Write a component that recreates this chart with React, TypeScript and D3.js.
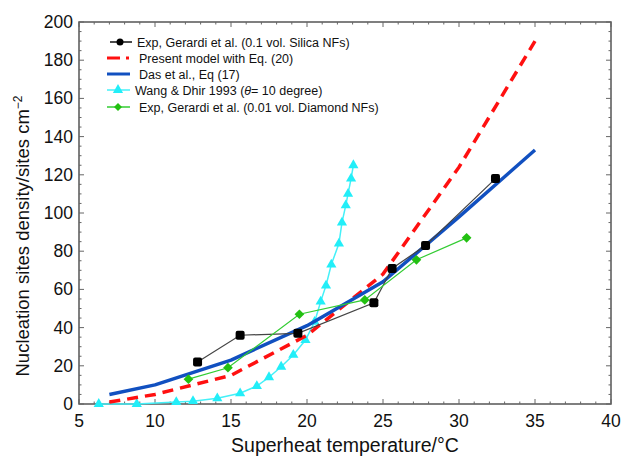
import { useEffect, useRef } from "react";
import * as d3 from "d3";

// Exp, Gerardi et al. (0.1 vol. Silica NFs)
const silicaX = [12.8, 15.6, 19.4, 24.4, 25.6, 27.8, 32.4];
const silicaY = [22, 36, 37, 53, 71, 83, 118];

// Exp, Gerardi et al. (0.01 vol. Diamond NFs)
const diamondX = [12.2, 14.8, 19.5, 23.8, 27.2, 30.5];
const diamondY = [13, 19, 47, 54.5, 75.5, 87];

// model curves
const modelX = [7, 10, 15, 20, 25, 30, 35];
const presentY = [1, 5, 15, 36, 68, 124, 190];
const dasY = [5, 10, 23, 41, 64, 98, 133];

// Wang & Dhir 1993
const wangX = [6.3, 8.8, 11.4, 12.5, 14.1, 15.6, 16.7, 17.5, 18.3, 19.1, 19.9, 20.5, 20.9, 21.25, 21.6, 22.1, 22.3, 22.55, 22.7, 22.9, 23.05];
const wangY = [0, 0, 1, 1.5, 3, 5.6, 9.4, 14, 19.5, 25.7, 33.5, 43, 53.6, 62, 73, 84, 95, 104, 110, 118, 125];

const xTicks = [5, 10, 15, 20, 25, 30, 35, 40];
const yTicks = [0, 20, 40, 60, 80, 100, 120, 140, 160, 180, 200];

const FONT = "'Liberation Sans', Arial, Helvetica, sans-serif";

export default function App() {
  const ref = useRef<SVGSVGElement>(null);

  useEffect(() => {
    if (!ref.current) return;
    const svg = d3.select(ref.current);
    svg.selectAll("*").remove();

    const left = 79, right = 611, top = 22, bottom = 404;
    const x = d3.scaleLinear().domain([5, 40]).range([left, right]);
    const y = d3.scaleLinear().domain([0, 200]).range([bottom, top]);

    const zip = (xs: number[], ys: number[]) => xs.map((v, i) => [v, ys[i]] as [number, number]);
    const line = d3.line<[number, number]>().x((d) => x(d[0])).y((d) => y(d[1]));

    // frame
    svg.append("rect")
      .attr("x", left).attr("y", top)
      .attr("width", right - left).attr("height", bottom - top)
      .attr("fill", "white").attr("stroke", "#555").attr("stroke-width", 1.5);

    // ticks (inward, all four sides)
    const tk = svg.append("g").attr("stroke", "#666").attr("stroke-width", 1);
    d3.range(5, 41, 1).forEach((v) => {
      const len = v % 5 === 0 ? 5 : 2.5;
      tk.append("line").attr("x1", x(v)).attr("x2", x(v)).attr("y1", bottom).attr("y2", bottom - len);
      tk.append("line").attr("x1", x(v)).attr("x2", x(v)).attr("y1", top).attr("y2", top + len);
    });
    d3.range(0, 201, 5).forEach((v) => {
      const len = v % 20 === 0 ? 5 : 2.5;
      tk.append("line").attr("y1", y(v)).attr("y2", y(v)).attr("x1", left).attr("x2", left + len);
      tk.append("line").attr("y1", y(v)).attr("y2", y(v)).attr("x1", right).attr("x2", right - len);
    });

    // tick labels
    svg.append("g").selectAll("text").data(xTicks).enter().append("text")
      .attr("x", (d) => x(d)).attr("y", 427)
      .attr("text-anchor", "middle")
      .style("font-family", FONT).style("font-size", "17.5px").attr("fill", "#111")
      .text((d) => d);
    svg.append("g").selectAll("text").data(yTicks).enter().append("text")
      .attr("x", 73).attr("y", (d) => y(d) + 6)
      .attr("text-anchor", "end")
      .style("font-family", FONT).style("font-size", "17.5px").attr("fill", "#111")
      .text((d) => d);

    // axis titles
    svg.append("text")
      .attr("x", 345).attr("y", 452)
      .attr("text-anchor", "middle")
      .style("font-family", FONT).style("font-size", "19.5px").attr("fill", "#111")
      .text("Superheat temperature/°C");
    const yl = svg.append("text")
      .attr("transform", "translate(29,236) rotate(-90)")
      .attr("text-anchor", "middle")
      .style("font-family", FONT).style("font-size", "18.5px").attr("fill", "#111");
    yl.append("tspan").text("Nucleation sites density/sites cm");
    yl.append("tspan").attr("dy", -7).style("font-size", "12px").text("−2");

    // Wang & Dhir
    const wang = zip(wangX, wangY);
    svg.append("path").attr("d", line(wang)).attr("fill", "none")
      .attr("stroke", "#44f0f8").attr("stroke-width", 1.5);
    svg.append("g").selectAll("path").data(wang).enter().append("path")
      .attr("d", d3.symbol(d3.symbolTriangle, 45)())
      .attr("transform", (d) => `translate(${x(d[0])},${y(d[1])})`)
      .attr("fill", "#22eef8");

    // Present model
    svg.append("path").attr("d", line(zip(modelX, presentY))).attr("fill", "none")
      .attr("stroke", "#ff1010").attr("stroke-width", 3.5).attr("stroke-dasharray", "11,7");

    // Das et al.
    svg.append("path").attr("d", line(zip(modelX, dasY))).attr("fill", "none")
      .attr("stroke", "#1150c0").attr("stroke-width", 3.5).attr("stroke-linejoin", "round");

    // Silica
    const silica = zip(silicaX, silicaY);
    svg.append("path").attr("d", line(silica)).attr("fill", "none")
      .attr("stroke", "#444").attr("stroke-width", 1.2);
    svg.append("g").selectAll("rect").data(silica).enter().append("rect")
      .attr("x", (d) => x(d[0]) - 4.5).attr("y", (d) => y(d[1]) - 4.5)
      .attr("width", 9).attr("height", 9).attr("rx", 2)
      .attr("fill", "#000");

    // Diamond
    const diamond = zip(diamondX, diamondY);
    svg.append("path").attr("d", line(diamond)).attr("fill", "none")
      .attr("stroke", "#33cc33").attr("stroke-width", 1.2);
    svg.append("g").selectAll("path").data(diamond).enter().append("path")
      .attr("d", d3.symbol(d3.symbolDiamond2, 60)())
      .attr("transform", (d) => `translate(${x(d[0])},${y(d[1])})`)
      .attr("fill", "#22c011");

    // Legend
    const lg = svg.append("g").style("font-family", FONT).style("font-size", "12.5px");
    const rows = [
      { yy: 42, tx: 137, label: "Exp, Gerardi et al. (0.1 vol. Silica NFs)" },
      { yy: 58, tx: 139, label: "Present model with Eq. (20)" },
      { yy: 74, tx: 139, label: "Das et al., Eq (17)" },
      { yy: 90, tx: 135, label: "" },
      { yy: 107, tx: 139, label: "Exp, Gerardi et al. (0.01 vol. Diamond NFs)" },
    ];
    rows.forEach((r) => {
      if (r.label) lg.append("text").attr("x", r.tx).attr("y", r.yy + 4.5).attr("fill", "#111").text(r.label);
    });
    // row 1
    lg.append("line").attr("x1", 110).attr("x2", 132).attr("y1", 42).attr("y2", 42).attr("stroke", "#111").attr("stroke-width", 1.5);
    lg.append("circle").attr("cx", 120).attr("cy", 42).attr("r", 3.5).attr("fill", "#000");
    // row 2
    lg.append("line").attr("x1", 107).attr("x2", 120).attr("y1", 58).attr("y2", 58).attr("stroke", "#ff1010").attr("stroke-width", 3);
    lg.append("line").attr("x1", 126).attr("x2", 129).attr("y1", 58).attr("y2", 58).attr("stroke", "#ff1010").attr("stroke-width", 3);
    // row 3
    lg.append("line").attr("x1", 107).attr("x2", 130).attr("y1", 74).attr("y2", 74).attr("stroke", "#1150c0").attr("stroke-width", 3);
    // row 4
    lg.append("line").attr("x1", 107).attr("x2", 130).attr("y1", 90).attr("y2", 90).attr("stroke", "#44f0f8").attr("stroke-width", 1.5);
    lg.append("path").attr("d", d3.symbol(d3.symbolTriangle, 45)()).attr("transform", "translate(118,90)").attr("fill", "#22eef8");
    const wt = lg.append("text").attr("x", 135).attr("y", 94.5).attr("fill", "#111");
    wt.append("tspan").text("Wang & Dhir 1993 (");
    wt.append("tspan").style("font-style", "italic").text("θ");
    wt.append("tspan").text("= 10 degree)");
    // row 5
    lg.append("line").attr("x1", 107).attr("x2", 130).attr("y1", 107).attr("y2", 107).attr("stroke", "#33cc33").attr("stroke-width", 1.5);
    lg.append("path").attr("d", d3.symbol(d3.symbolDiamond2, 40)()).attr("transform", "translate(118,107)").attr("fill", "#22c011");
  }, []);

  return (
    <svg
      ref={ref}
      width={624}
      height={457}
      style={{ position: "absolute", left: 0, top: 0, background: "white" }}
    />
  );
}
